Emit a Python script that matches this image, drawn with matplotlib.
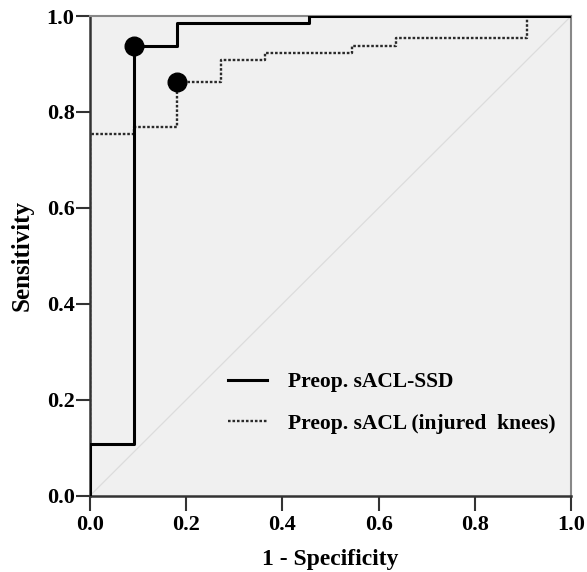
import matplotlib
matplotlib.use("Agg")
import matplotlib.pyplot as plt

# ROC step points (1 - specificity, sensitivity)
ssd_fpr = [0.0, 0.0, 0.091, 0.091, 0.182, 0.182, 0.455, 0.455, 1.0]
ssd_tpr = [0.0, 0.108, 0.108, 0.938, 0.938, 0.985, 0.985, 1.0, 1.0]
inj_fpr = [0.0, 0.0, 0.091, 0.091, 0.182, 0.182, 0.273, 0.273, 0.364, 0.364,
           0.545, 0.545, 0.636, 0.636, 0.909, 0.909, 1.0]
inj_tpr = [0.0, 0.754, 0.754, 0.769, 0.769, 0.862, 0.862, 0.908, 0.908, 0.923,
           0.923, 0.938, 0.938, 0.954, 0.954, 1.0, 1.0]
# optimal cut-off points
cut_fpr = [0.091, 0.182]
cut_tpr = [0.938, 0.862]

labels = ["Preop. sACL-SSD", "Preop. sACL (injured  knees)"]
ticks = [0.0, 0.2, 0.4, 0.6, 0.8, 1.0]

plt.rcParams["font.family"] = ["Liberation Serif", "DejaVu Serif"]

fig = plt.figure(figsize=(5.87, 5.72), dpi=100)
ax = fig.add_axes([0.153, 0.133, 0.820, 0.839])
ax.set_facecolor("#f0f0f0")

ax.plot([0, 1], [0, 1], color="#dcdcdc", lw=0.9, zorder=1)
ax.plot(inj_fpr, inj_tpr, color="#2a2a2a", lw=1.7, ls=(0, (1.1, 0.8)), label=labels[1], zorder=2)
ax.plot(ssd_fpr, ssd_tpr, color="black", lw=2.2, label=labels[0], zorder=3)
ax.scatter(cut_fpr, cut_tpr, s=180, color="black", marker="o", zorder=4)

ax.set_xlim(0, 1)
ax.set_ylim(0, 1)
ax.set_xticks(ticks)
ax.set_yticks(ticks)
ax.set_xticklabels([f"{t:.1f}" for t in ticks], fontweight="bold", fontsize=16)
ax.set_yticklabels([f"{t:.1f}" for t in ticks], fontweight="bold", fontsize=16)
ax.tick_params(axis="x", direction="out", length=11, width=1.5, color="#333333", pad=3)
ax.tick_params(axis="y", direction="out", length=10, width=1.5, color="#333333", pad=1)
ax.set_xlabel("1 - Specificity", fontweight="bold", fontsize=17, labelpad=10)
ax.set_ylabel("Sensitivity", fontweight="bold", fontsize=18)
ax.yaxis.set_label_coords(-0.116, 0.5)

for s in ["left", "bottom"]:
    ax.spines[s].set_color("#333333")
    ax.spines[s].set_linewidth(1.8)
for s in ["top", "right"]:
    ax.spines[s].set_color("#888888")
    ax.spines[s].set_linewidth(1.5)

h, l = ax.get_legend_handles_labels()
leg = ax.legend(h[::-1], l[::-1], loc="upper left", bbox_to_anchor=(0.287, 0.258),
                frameon=False, prop={"weight": "bold", "size": 15.5},
                handlelength=1.8, handletextpad=1.0, labelspacing=1.0,
                borderaxespad=0, borderpad=0)

fig.savefig("out.png", dpi=100)
